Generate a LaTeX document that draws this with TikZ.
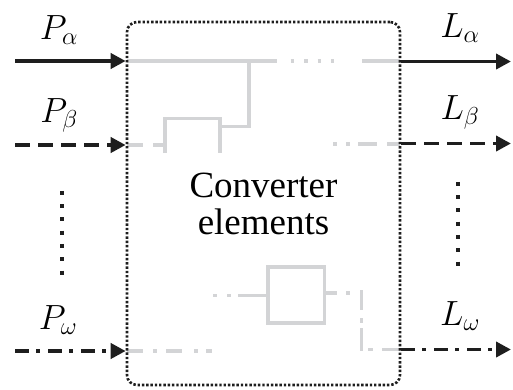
\RequirePackage{fix-cm}
\documentclass[tikz,border=0pt]{standalone}
\usepackage{fontspec}
\setmainfont{Liberation Serif}
\usetikzlibrary{arrows.meta}
\definecolor{lgray}{RGB}{211,212,214}
\definecolor{ink}{RGB}{30,30,30}
\begin{document}
\begin{tikzpicture}[x=1pt,y=-1pt,
  blk/.style={draw=ink, line width=3.8pt, -{Triangle[length=15pt,width=15pt]}},
  blkdash/.style={blk, dash pattern=on 15pt off 8pt},
  blkdashdot/.style={blk, dash pattern=on 14pt off 7pt on 4pt off 8pt},
  gry/.style={draw=lgray, line width=3.8pt},
  lbl/.style={font=\fontsize{35}{35}\selectfont, anchor=base, inner sep=0pt},
  vdotline/.style={draw=ink, line width=4.5pt, dash pattern=on 4pt off 9.3pt},
  convbox/.style={draw=ink, line width=2.6pt, dash pattern=on 2.4pt off 1.9pt,
    rounded corners=10pt, minimum width=273pt, minimum height=363pt,
    inner sep=0pt, align=center, font=\fontsize{37}{37}\selectfont},
]
\useasboundingbox (0,0) rectangle (513,389);

% ---- grey internal elements ----
% alpha path
\draw[gry] (127,61) -- (277,61);
\draw[gry, dash pattern=on 3.5pt off 10pt] (290.5,61) -- (334,61);
\draw[gry] (362,61) -- (400,61);
\draw[gry] (249,61) -- (249,126.5) -- (220,126.5);
\draw[gry] (165,153) -- (165,118.5) -- (220,118.5) -- (220,153);
% beta path
\draw[gry] (127,145) -- (143,145);
\draw[gry] (153,145) -- (165,145);
\draw[gry] (333,144) -- (337,144);
\draw[gry] (346,144) -- (350,144);
\draw[gry] (358,144) -- (377,144);
\draw[gry] (387,144) -- (400,144);
% omega path
\node[gry, draw, minimum width=56.5pt, minimum height=56pt, inner sep=0pt] (eb) at (296.25,295) {};
\draw[gry] (213,295.5) -- (217,295.5);
\draw[gry] (227,295.5) -- (231,295.5);
\draw[gry] (238,295.5) -- (eb.west |- 0,295.5);
\draw[gry] (eb.east |- 0,293) -- (337,293);
\draw[gry] (346,293) -- (350,293);
\draw[gry] (361.5,290) -- (361.5,310);
\draw[gry] (361.5,318) -- (361.5,323);
\draw[gry] (361.5,328) -- (361.5,349.5) -- (363,349.5);
\draw[gry] (368,349.5) -- (373,349.5);
\draw[gry] (382,349.5) -- (400,349.5);
\draw[gry] (127,351) -- (143,351);
\draw[gry] (153,351) -- (157,351);
\draw[gry] (166,351) -- (182,351);
\draw[gry] (194,351) -- (198,351);
\draw[gry] (206,351) -- (212,351);

% ---- converter box ----
\node[convbox] (box) at (263.5,203.5) {Converter\\elements};

% ---- inputs ----
\coordinate (pa) at (15,61);
\coordinate (pb) at (15,145);
\coordinate (pw) at (15,351);
\draw[blk] (pa) -- (pa -| box.west);
\draw[blkdash] (pb) -- (pb -| box.west);
\draw[blkdashdot] (pw) -- (pw -| box.west);
\node[lbl] (lpa) at (59,39) {$P_\alpha$};
\node[lbl] (lpb) at (59,122) {$P_\beta$};
\node[lbl] (lpw) at (58,329) {$P_\omega$};
\draw[vdotline] (62,190.75) -- (62,275.5);

% ---- outputs ----
\coordinate (la) at (511,61.5);
\coordinate (lb) at (511,143.5);
\coordinate (lw) at (511,349.5);
\draw[blk] (la -| box.east) -- (la);
\draw[blkdash] (lb -| box.east) -- (lb);
\draw[blkdashdot] (lw -| box.east) -- (lw);
\node[lbl] (lla) at (460,37) {$L_\alpha$};
\node[lbl] (llb) at (460,119) {$L_\beta$};
\node[lbl] (llw) at (460,325) {$L_\omega$};
\draw[vdotline] (458,181.75) -- (458,266);
\end{tikzpicture}
\end{document}
